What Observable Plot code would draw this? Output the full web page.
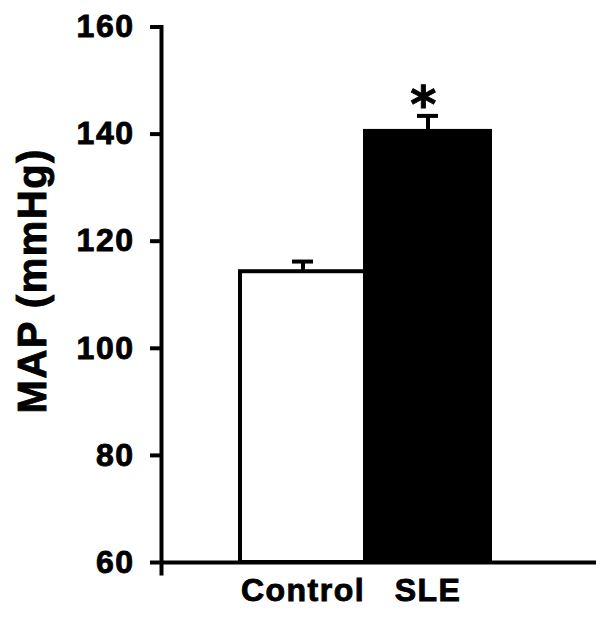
<!DOCTYPE html>
<html>
<head>
<meta charset="utf-8">
<script src="https://cdn.jsdelivr.net/npm/d3@7"></script>
<script src="https://cdn.jsdelivr.net/npm/@observablehq/plot@0.6"></script>
<style>
  html, body { margin: 0; padding: 0; background: white; }
  #chart svg text { stroke: black; stroke-width: 0.9px; }
</style>
</head>
<body>
<div id="chart"></div>
<script>
const categories = ["Control", "SLE"];
const means = [114.3, 140.5];
const sems = [1.9, 2.9];
const fills = ["white", "black"];
const markers = ["", "*"];
const yTicks = [60, 80, 100, 120, 140, 160];
const yLabel = "MAP (mmHg)";

const data = categories.map((c, i) => ({
  group: c, mean: means[i], top: means[i] + sems[i], fill: fills[i], marker: markers[i]
}));

const font = "'Liberation Sans', Arial, Helvetica, sans-serif";

const chart = Plot.plot({
  width: 608,
  height: 619,
  marginTop: 26.5,
  marginBottom: 57,
  marginLeft: 161,
  marginRight: 12,
  style: {fontFamily: font, background: "white", color: "black", letterSpacing: "1.5px"},
  x: {domain: categories, paddingInner: 0, paddingOuter: 0.74, align: 0.427},
  y: {domain: [60, 160]},
  marks: [
    Plot.barY(data, {x: "group", y1: 60, y2: "mean", fill: d => d.fill, stroke: "black", strokeWidth: 4}),
    Plot.ruleX(data, {x: "group", y1: "mean", y2: "top", stroke: "black", strokeWidth: 4}),
    Plot.tickY(data, {x: "group", y: "top", stroke: "black", strokeWidth: 4, insetLeft: 52, insetRight: 52}),
    Plot.text(data, {x: "group", y: "top", text: "marker", fontFamily: "'DejaVu Sans'", fontSize: 50, fontWeight: "bold", dy: 6, dx: -4, lineAnchor: "bottom"}),
    Plot.ruleY([60], {stroke: "black", strokeWidth: 4}),
    Plot.frame({anchor: "left", stroke: "black", strokeWidth: 4, insetBottom: -11}),
    Plot.axisY({ticks: yTicks, tickSize: 11, tickPadding: 16, strokeWidth: 4, fontSize: 32, fontWeight: "bold", label: null, tickFormat: d => String(d)}),
    Plot.axisX({tickSize: 0, tickPadding: 16, fontSize: 32, fontWeight: "bold", label: null}),
    Plot.text([yLabel], {frameAnchor: "left", textAnchor: "middle", rotate: -90, dx: -128, dy: -14, fontSize: 40, fontWeight: "bold"})
  ]
});
document.getElementById("chart").appendChild(chart);
</script>
</body>
</html>
